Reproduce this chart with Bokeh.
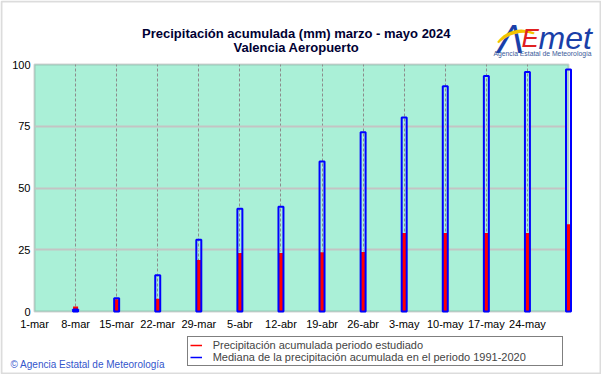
from bokeh.plotting import figure
from bokeh.models import (Range1d, FixedTicker, BoxAnnotation, Label, Legend, LegendItem)
from bokeh.embed import file_html
from bokeh.resources import INLINE

# ---- data ----
tick_days = [0, 7, 14, 21, 28, 35, 42, 49, 56, 63, 70, 77, 84]
tick_labels = ["1-mar", "8-mar", "15-mar", "22-mar", "29-mar", "5-abr", "12-abr",
               "19-abr", "26-abr", "3-may", "10-may", "17-may", "24-may"]
bar_days = [7, 14, 21, 28, 35, 42, 49, 56, 63, 70, 77, 84, 91]
observed = [2.0, 5.0, 5.2, 20.9, 23.7, 23.7, 24.0, 24.1, 31.8, 31.8, 31.8, 31.8, 35.3]
median = [0.8, 5.4, 14.7, 29.0, 41.6, 42.4, 60.7, 72.6, 78.5, 91.2, 95.3, 97.0, 98.0]
y_ticks = [0, 25, 50, 75, 100]
period_days = 91
y_max = 100

FONT = "Liberation Sans"
W, H = 601, 374

# plot region (pixels): left 34, right 568, top 64, bottom 311
px_day = (568 - 34) / period_days
px_mm = (311 - 64) / y_max
x_range = Range1d(-34 / px_day, period_days + (W - 568) / px_day)
y_range = Range1d(-(H - 311) / px_mm, y_max + 64 / px_mm)

p = figure(width=W, height=H, output_backend="svg", toolbar_location=None,
           x_range=x_range, y_range=y_range, min_border=0)
p.background_fill_color = "white"
p.border_fill_color = "white"
p.outline_line_color = None

# outer frame
frame = BoxAnnotation(left=1, right=W - 1, bottom=1, top=H - 1,
                      left_units="screen", right_units="screen",
                      bottom_units="screen", top_units="screen",
                      fill_color=None, line_color="#8a8a8a", line_width=2,
                      level="underlay")
# plot area background
box = BoxAnnotation(left=0, right=period_days, bottom=0, top=y_max,
                    fill_color="#aaf0d7", fill_alpha=1.0,
                    line_color="#6a6a6a", line_width=2, level="underlay")
p.add_layout(frame)
p.add_layout(box)

# axes drawn at fixed locations inside the canvas
xa = p.xaxis[0]
xa.fixed_location = 0
xa.ticker = FixedTicker(ticks=tick_days)
xa.major_label_overrides = {d: l for d, l in zip(tick_days, tick_labels)}
xa.axis_line_color = None
xa.major_tick_line_color = None
xa.minor_tick_line_color = None
xa.major_tick_out = 0
xa.major_tick_in = 0
xa.major_label_standoff = 6
xa.major_label_text_font = FONT
xa.major_label_text_font_size = "11px"
xa.major_label_text_color = "black"

ya = p.yaxis[0]
ya.fixed_location = 0
ya.ticker = FixedTicker(ticks=y_ticks)
ya.axis_line_color = None
ya.major_tick_line_color = None
ya.minor_tick_line_color = None
ya.major_tick_out = 0
ya.major_tick_in = 0
ya.major_label_standoff = 4
ya.major_label_text_font = FONT
ya.major_label_text_font_size = "11px"
ya.major_label_text_color = "black"

p.xgrid.ticker = FixedTicker(ticks=tick_days[1:])
p.xgrid.grid_line_color = "#8c8c8c"
p.xgrid.grid_line_dash = "3 2"
p.xgrid.grid_line_width = 1
p.xgrid.cross_bounds = (0, y_max)
p.ygrid.ticker = FixedTicker(ticks=y_ticks[1:-1])
p.ygrid.grid_line_color = "#c4c4c4"
p.ygrid.grid_line_width = 2
p.ygrid.cross_bounds = (0, period_days)

# put backgrounds below the grids
p.center = [frame, box] + [r for r in p.center if r is not box and r is not frame]

# bars
p.vbar(x=bar_days, top=observed, width=0.85, fill_color="#ff0000", line_color=None)
p.vbar(x=bar_days, top=median, width=0.85, fill_color=None,
       line_color="#0000ff", line_width=2)

# legend samples: single-point lines (draw nothing in the plot, but give the legend a line)
r_obs = p.line(x=bar_days[:1], y=observed[:1], line_color="#ff0000", line_width=1.5)
r_med = p.line(x=bar_days[:1], y=median[:1], line_color="#0000ff", line_width=1.5)
legend = Legend(items=[
    LegendItem(label="Precipitación acumulada periodo estudiado", renderers=[r_obs]),
    LegendItem(label="Mediana de la precipitación acumulada en el periodo 1991-2020", renderers=[r_med]),
], location=(186.7, 8), padding=2, spacing=0, margin=0,
    glyph_width=12, glyph_height=10, label_height=10, label_width=347,
    label_standoff=11, label_text_font=FONT, label_text_font_size="11px",
    border_line_color="black", border_line_width=1,
    background_fill_color="white", background_fill_alpha=1.0)
p.add_layout(legend)

def lab(x, y, text, **kw):
    kw.setdefault("text_font", FONT)
    kw.setdefault("text_baseline", "alphabetic")
    p.add_layout(Label(x=x, y=H - y, x_units="screen", y_units="screen", text=text, **kw))

# titles
lab(295.8, 33.3, "Precipitación acumulada (mm) marzo - mayo 2024",
    text_font_style="bold", text_font_size="13px", text_align="center", text_color="#000033")
lab(295.8, 47.3, "Valencia Aeropuerto",
    text_font_style="bold", text_font_size="13px", text_align="center", text_color="#000033")

# copyright
lab(10, 364, "© Agencia Estatal de Meteorología",
    text_font_size="10px", text_align="left", text_color="#3355cc")

# logo
lab(497, 38, "Λ", text_font_style="italic", text_font_size="40px", text_color="#1a3fa8")
lab(519, 50, "⌒", text_font="DejaVu Sans", text_font_style="bold", text_font_size="44px",
    text_align="center", text_baseline="middle", text_color="#f2c400", angle=0.25)
lab(521, 37, "E", text_font_style="italic", text_font_size="26px", text_color="#e02020")
lab(538, 37, "met", text_font_style="italic", text_font_size="32px", text_color="#1a3fa8")
lab(542, 53, "Agencia Estatal de Meteorología", text_font_size="6.8px",
    text_align="center", text_color="#3a5a9a")

open("out.html", "w").write(file_html(p, INLINE))
